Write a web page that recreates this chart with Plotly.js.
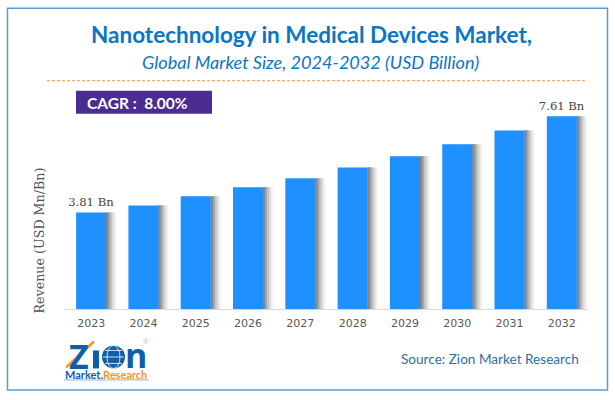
<!DOCTYPE html>
<html>
<head>
<meta charset="utf-8">
<script src="https://cdn.plot.ly/plotly-3.0.1.min.js"></script>
<style>html,body{margin:0;padding:0;background:#fff;overflow:hidden}</style>
</head>
<body>
<div id="chart" style="width:615px;height:400px"></div>
<script>
const years = ["2023","2024","2025","2026","2027","2028","2029","2030","2031","2032"];
const revenue = [3.81,4.09,4.45,4.81,5.16,5.59,6.03,6.50,7.05,7.61];
const valueLabels = ["3.81 Bn","","","","","","","","","7.61 Bn"];
const shadowShades = ["#f2f2f2","#dedede","#c4c4c4","#a4a4a4","#858585"];

const L=65, W=523, T=81.3, H=228.2;
const px = x => (x-L)/W;
const py = y => (T+H-y)/H;

const traces = [];
shadowShades.forEach((c,i)=>{
  const n = shadowShades.length - i;
  traces.push({type:"bar",x:years,y:revenue,width:n*0.0383,offset:0.2875,
    marker:{color:c,line:{width:0}},hoverinfo:"skip",showlegend:false});
});
traces.push({type:"bar",x:years,y:revenue,width:0.575,offset:-0.2875,
  marker:{color:"#1e90ff",line:{width:0}},
  text:valueLabels,textposition:"outside",cliponaxis:false,constraintext:"none",
  textfont:{family:"DejaVu Serif, serif",size:11.6,color:"#444"},showlegend:false});

const ann = (text,x,y,size,color,family,extra)=>Object.assign({
  text,xref:"paper",yref:"paper",x:px(x),y:py(y),showarrow:false,
  xanchor:"center",yanchor:"middle",
  font:{family:family||"Lato",size,color}},extra||{});

const annotations = [
  ann("<b>Nanotechnology in Medical Devices Market,</b>",311,35,22.5,"#0a76c4"),
  ann("<i>Global Market Size, 2024-2032 (USD Billion)</i>",310,62,18.1,"#0a76c4"),
  ann("<b>CAGR :  8.00%</b>",137,103,15.5,"#ffffff"),
  ann("Revenue (USD Mn/Bn)",40,241,12.7,"#555555","DejaVu Serif, serif",{textangle:-90}),
  ann("Source: Zion Market Research",490,360,13.6,"#2f6ea5"),
  ann("<b>Z</b>",79,357,34,"#0f5ea8","Open Sans"),
  ann("<b>n</b>",136,356,34,"#0f5ea8","Open Sans"),
  ann("<b>Market.</b>",84,375,11,"#0f5ea8","Lato"),
  ann("<b>Research</b>",125,375,11,"#f7941d","Lato"),
  ann("®",146,342,7,"#f7b27a","Open Sans")
];

const rect=(x0,y0,x1,y1,o)=>Object.assign({type:"rect",xref:"paper",yref:"paper",
  x0:px(x0),x1:px(x1),y0:py(y0),y1:py(y1)},o);
const line=(x0,y0,x1,y1,o)=>({type:"line",xref:"paper",yref:"paper",
  x0:px(x0),x1:px(x1),y0:py(y0),y1:py(y1),line:o});
const circ=(x0,y0,x1,y1,o)=>Object.assign({type:"circle",xref:"paper",yref:"paper",
  x0:px(x0),x1:px(x1),y0:py(y0),y1:py(y1)},o);

const shapes = [
  rect(7.5,8.5,607.5,390.5,{line:{color:"#5b9bd5",width:1.5},fillcolor:"rgba(0,0,0,0)"}),
  line(47,81,587,81,{color:"#f79646",width:1,dash:"3px,2px"}),
  rect(76,91,212,114,{line:{width:0},fillcolor:"#4b2c92"}),
  line(66,368,94,342,{color:"#f7941d",width:2.5}),
  rect(93,351,99,369,{line:{width:0},fillcolor:"#0f5ea8"}),
  circ(102,346,125,369,{line:{width:0},fillcolor:"#0f5ea8"}),
  circ(107,346,120,369,{line:{color:"#ffffff",width:0.8},fillcolor:"rgba(0,0,0,0)"}),
  line(103,357.5,124,357.5,{color:"#ffffff",width:0.8}),
  line(105,351,122,351,{color:"#ffffff",width:0.8}),
  line(105,364,122,364,{color:"#ffffff",width:0.8}),
  line(64,380.5,149,380.5,{color:"#8fb4d6",width:1})
];

Plotly.newPlot("chart",traces,{
  width:615,height:400,
  margin:{l:L,r:615-L-W,t:T,b:400-T-H,pad:0},
  paper_bgcolor:"#ffffff",plot_bgcolor:"#ffffff",
  barmode:"overlay",
  xaxis:{type:"category",categoryorder:"array",categoryarray:years,
    showgrid:false,zeroline:false,showline:true,linecolor:"#d9d9d9",linewidth:1,
    ticks:"outside",ticklen:4,tickcolor:"rgba(0,0,0,0)",
    tickfont:{family:"DejaVu Sans",size:11,color:"#595959"}},
  yaxis:{range:[0,9],visible:false,showgrid:false,zeroline:false},
  showlegend:false,annotations,shapes
},{displayModeBar:false,staticPlot:true});
</script>
</body>
</html>
